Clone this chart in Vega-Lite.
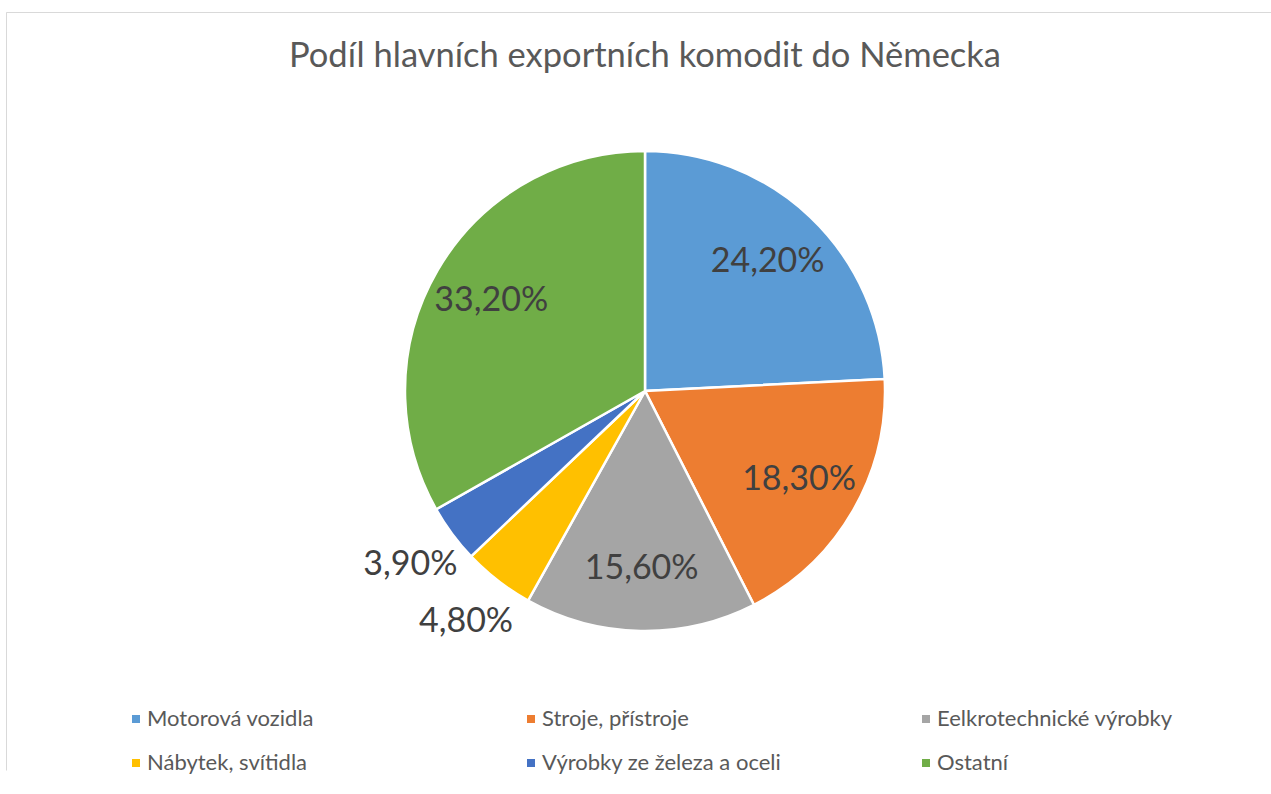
{
  "$schema": "https://vega.github.io/schema/vega-lite/v6.json",
  "width": 1278,
  "height": 758,
  "autosize": {"type": "none"},
  "padding": {"left": 6, "top": 12, "right": -13, "bottom": 24},
  "background": "white",
  "view": {"stroke": "#D9D9D9", "strokeWidth": 1, "strokeDash": [2036, 1278, 758]},
  "title": {
    "text": "Podíl hlavních exportních komodit do Německa",
    "font": "Lato",
    "fontSize": 34.5,
    "fontWeight": "normal",
    "color": "#595959",
    "anchor": "middle",
    "offset": -62
  },
  "data": {
    "values": [
      {"komodita": "Motorová vozidla", "podil": 0.242},
      {"komodita": "Stroje, přístroje", "podil": 0.183},
      {"komodita": "Eelkrotechnické výrobky", "podil": 0.156},
      {"komodita": "Nábytek, svítidla", "podil": 0.048},
      {"komodita": "Výrobky ze železa a oceli", "podil": 0.039},
      {"komodita": "Ostatní", "podil": 0.332}
    ]
  },
  "transform": [{"window": [{"op": "row_number", "as": "poradi"}]}],
  "encoding": {
    "theta": {"field": "podil", "type": "quantitative", "stack": true},
    "order": {"field": "poradi", "type": "quantitative"},
    "color": {
      "field": "komodita",
      "type": "nominal",
      "sort": null,
      "scale": {
        "domain": ["Motorová vozidla", "Stroje, přístroje", "Eelkrotechnické výrobky", "Nábytek, svítidla", "Výrobky ze železa a oceli", "Ostatní"],
        "range": ["#5B9BD5", "#ED7D31", "#A5A5A5", "#FFC000", "#4472C4", "#70AD47"]
      },
      "legend": {
        "orient": "none",
        "legendX": 119,
        "legendY": 696,
        "direction": "horizontal",
        "columns": 3,
        "title": null,
        "gridAlign": "all",
        "columnPadding": 133,
        "rowPadding": 22,
        "symbolType": "square",
        "symbolSize": 64,
        "symbolStrokeWidth": 0,
        "symbolOpacity": 1,
        "labelFont": "Lato",
        "labelFontSize": 22,
        "labelColor": "#595959",
        "labelOffset": 0,
        "labelLimit": 400
      }
    }
  },
  "layer": [
    {"mark": {"type": "arc", "outerRadius": 240, "stroke": "white", "strokeWidth": 2.5}},
    {
      "mark": {"type": "text", "radius": 178, "font": "Lato", "fontSize": 34},
      "encoding": {
        "text": {"field": "podil", "type": "quantitative", "format": ".2%"},
        "color": {"value": "#404040"},
        "opacity": {"condition": {"test": "datum.podil >= 0.1", "value": 1}, "value": 0}
      }
    },
    {
      "mark": {"type": "text", "radius": 292, "font": "Lato", "fontSize": 34},
      "encoding": {
        "text": {"field": "podil", "type": "quantitative", "format": ".2%"},
        "color": {"value": "#404040"},
        "opacity": {"condition": {"test": "datum.podil < 0.1", "value": 1}, "value": 0}
      }
    }
  ],
  "config": {
    "locale": {"number": {"decimal": ",", "thousands": " ", "grouping": [3], "currency": ["", " Kč"]}}
  }
}
